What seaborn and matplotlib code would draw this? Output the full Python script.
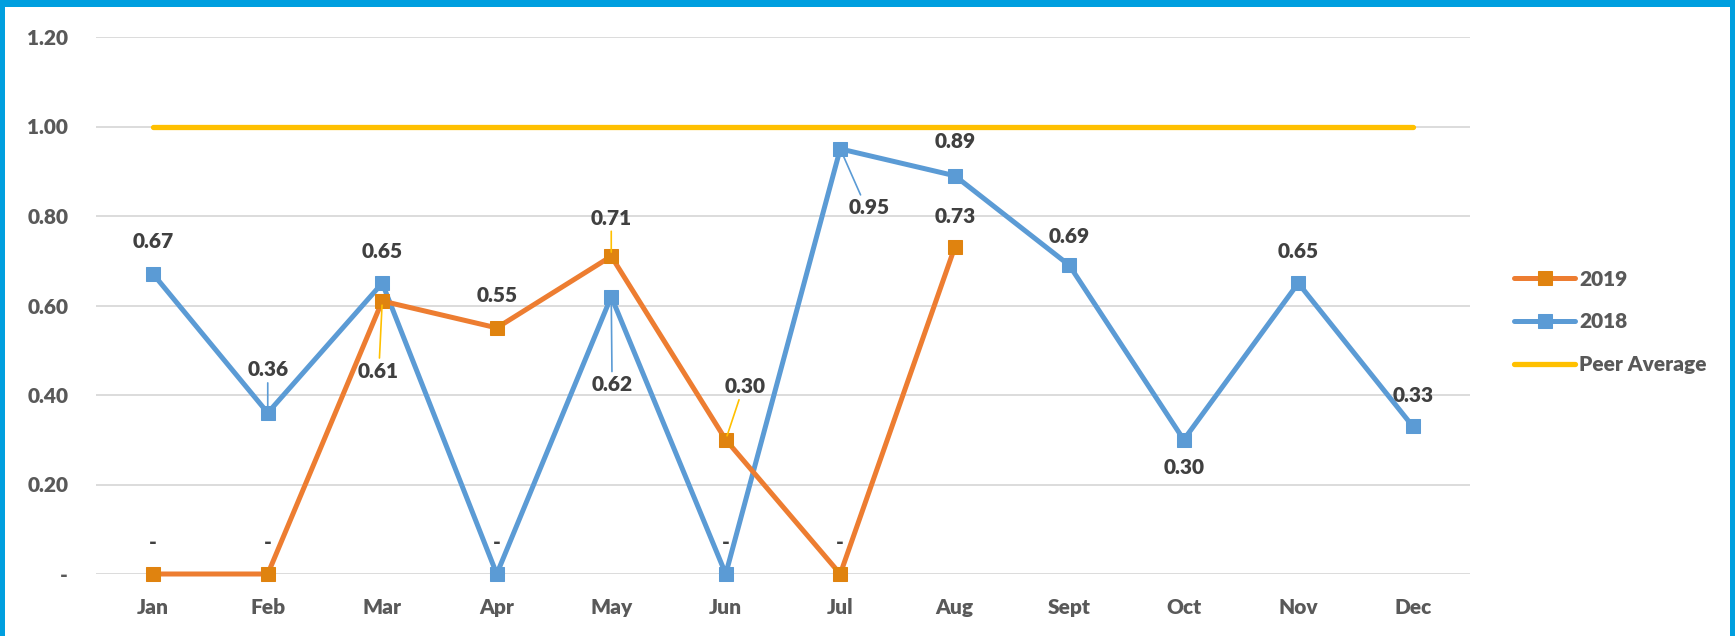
import numpy as np
import pandas as pd
import matplotlib.pyplot as plt
import matplotlib.patches as patches
import seaborn as sns

months = ["Jan", "Feb", "Mar", "Apr", "May", "Jun", "Jul", "Aug", "Sept", "Oct", "Nov", "Dec"]
vals_2019 = [0.0, 0.0, 0.61, 0.55, 0.71, 0.30, 0.0, 0.73, np.nan, np.nan, np.nan, np.nan]
vals_2018 = [0.67, 0.36, 0.65, 0.0, 0.62, 0.0, 0.95, 0.89, 0.69, 0.30, 0.65, 0.33]
peer_avg = [1.0] * 12

# label offsets in pixels (dx, dy); leader=True draws a thin line to the point
offsets_2019 = [(0, 31, False), (0, 31, False), (-4, -70, True), (0, 32, False), (0, 38, True),
                (19, 53, True), (0, 31, False), (0, 31, False)]
offsets_2018 = [(0, 33, False), (0, 43, True), (0, 32, False), (0, 31, False), (1, -88, True),
                (0, 31, False), (29, -59, True), (0, 34, False), (0, 29, False), (0, -28, False),
                (0, 32, False), (0, 31, False)]

sns.set_style("white")
plt.rcParams["font.family"] = ["Lato", "DejaVu Sans"]

ORANGE = "#ED7D31"
ORANGE_MK = "#E0830F"
BLUE = "#5B9BD5"
GOLD = "#FFC000"

df = pd.DataFrame({"month": months, "2019": vals_2019, "2018": vals_2018, "Peer Average": peer_avg})
df["x"] = np.arange(len(months))

fig = plt.figure(figsize=(17.35, 6.36), dpi=100)
ax = fig.add_axes([96 / 1735, 1 - 574 / 636, (1470 - 96) / 1735, (574 - 37) / 636])

sns.lineplot(data=df, x="x", y="2019", ax=ax, color=ORANGE, lw=3.6, marker="s", markersize=10,
             markerfacecolor=ORANGE_MK, markeredgecolor=ORANGE_MK, label="2019", clip_on=False, zorder=4)
sns.lineplot(data=df, x="x", y="2018", ax=ax, color=BLUE, lw=3.6, marker="s", markersize=10,
             markerfacecolor=BLUE, markeredgecolor=BLUE, label="2018", clip_on=False, zorder=3)
sns.lineplot(data=df, x="x", y="Peer Average", ax=ax, color=GOLD, lw=3.8, label="Peer Average",
             solid_capstyle="round", zorder=2)


def fmt(v):
    return "-" if v == 0 else f"{v:.2f}"


def add_labels(values, offsets, lead_color):
    for i, v in enumerate(values):
        if np.isnan(v):
            continue
        dx, dy, lead = offsets[i]
        ax.annotate(fmt(v), (i, v), xytext=(dx, dy), textcoords="offset pixels",
                    ha="center", va="center", fontsize=15, fontweight="heavy", color="#404040",
                    annotation_clip=False, zorder=6)
        if lead:
            sgn = 1 if dy > 0 else -1
            ax.annotate("", (i, v), xytext=(dx * 0.7, dy - sgn * 13), textcoords="offset pixels",
                        arrowprops=dict(arrowstyle="-", color=lead_color, lw=1.2, shrinkA=0, shrinkB=3),
                        annotation_clip=False, zorder=5)


add_labels(vals_2019, offsets_2019, GOLD)
add_labels(vals_2018, offsets_2018, BLUE)

ax.set_xlim(-0.5, 11.5)
ax.set_ylim(0, 1.2)
ax.set_xticks(df["x"])
ax.set_xticklabels(months)
yt = [0, 0.2, 0.4, 0.6, 0.8, 1.0, 1.2]
ax.set_yticks(yt)
ax.set_yticklabels(["-"] + [f"{t:.2f}" for t in yt[1:]])
ax.tick_params(axis="both", length=0, labelsize=15, labelcolor="#595959")
ax.tick_params(axis="y", pad=20)
ax.tick_params(axis="x", pad=17)
for lab in ax.get_xticklabels() + ax.get_yticklabels():
    lab.set_fontweight("heavy")
ax.set_xlabel("")
ax.set_ylabel("")
ax.grid(axis="y", color="#D9D9D9", lw=1.3)
ax.set_axisbelow(True)
for s in ax.spines.values():
    s.set_visible(False)

leg = ax.legend(loc="center left", bbox_to_anchor=(1506 / 1735, 1 - 322 / 636),
                bbox_transform=fig.transFigure, frameon=False, fontsize=15,
                handlelength=2.9, handletextpad=0.2, labelspacing=1.15, borderaxespad=0)
for t in leg.get_texts():
    t.set_fontweight("heavy")
    t.set_color("#595959")

# blue frame around the chart (left, top, right)
border = "#009FDF"
fig.add_artist(patches.Rectangle((0, 0), 5 / 1735, 1, transform=fig.transFigure, color=border, lw=0))
fig.add_artist(patches.Rectangle((0, 1 - 7 / 636), 1, 7 / 636, transform=fig.transFigure, color=border, lw=0))
fig.add_artist(patches.Rectangle((1 - 5 / 1735, 0), 5 / 1735, 1, transform=fig.transFigure, color=border, lw=0))

fig.savefig("out.png", dpi=100)
